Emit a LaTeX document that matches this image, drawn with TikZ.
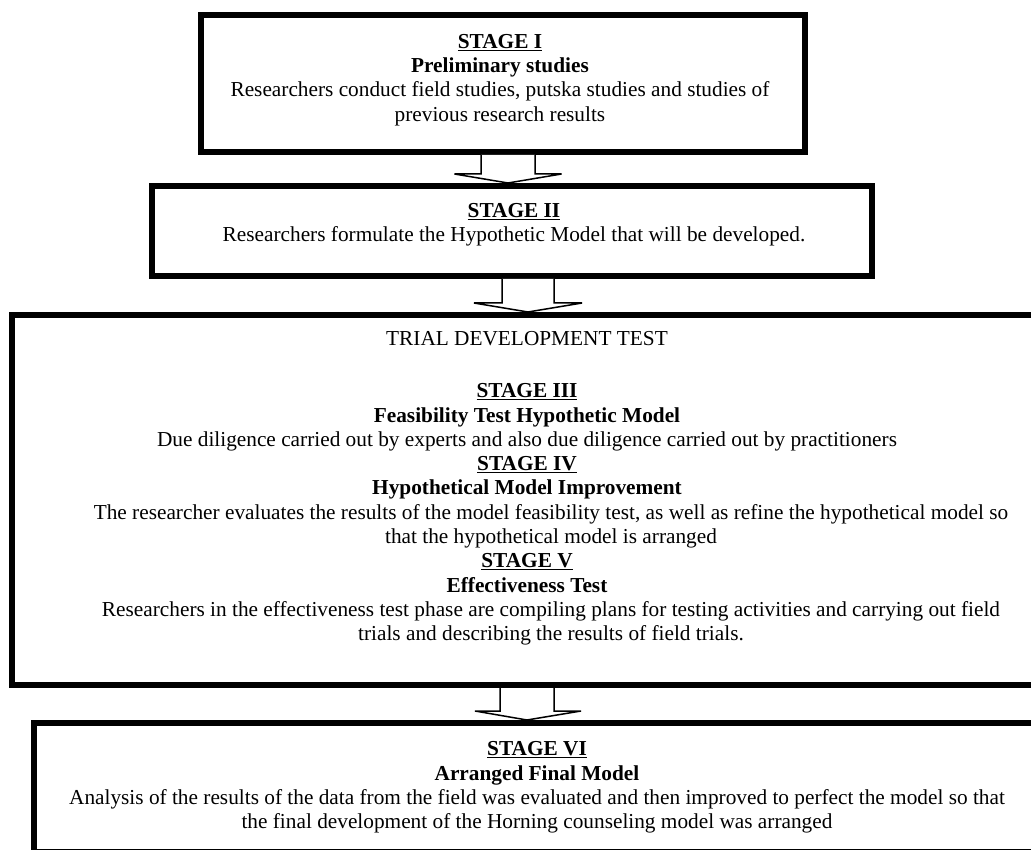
\documentclass[tikz,border=0pt]{standalone}
\usepackage{fontspec}
\setmainfont{Liberation Serif}
\usetikzlibrary{calc}

\begin{document}
\begin{tikzpicture}[x=1pt,y=1pt,
  frame/.style={draw=black, line width=6pt, inner sep=0pt},
  words/.style={align=center, inner sep=0pt, font=\fontsize{21.3}{24.3}\selectfont},
  hollow/.style={draw=black, line width=1.5pt, fill=white, line join=miter}]
\useasboundingbox (0,0) rectangle (1031,-850);

% the four stage boxes
\node[frame, minimum width=604, minimum height=136.5] (f1) at (503,-83.75) {};
\node[frame, minimum width=720, minimum height=90] (f2) at (512,-231) {};
\node[frame, minimum width=1030, minimum height=370] (f3) at (527,-500) {};
\node[frame, minimum width=1006, minimum height=129] (f4) at (537,-787.5) {};

\node[words] (s1) at (500,-80) {\textbf{\underline{STAGE I}}\\
  \textbf{Preliminary studies}\\
  Researchers conduct field studies, putska studies and studies of\\
  previous research results};

\node[words] (s2) at (514,-225) {\textbf{\underline{STAGE II}}\\
  Researchers formulate the Hypothetic Model that will be developed.};

\node[words] (s3) at (527,-488.5) {TRIAL DEVELOPMENT TEST\\[27.7pt]
  \textbf{\underline{STAGE III}}\\
  \textbf{Feasibility Test Hypothetic Model}\\
  Due diligence carried out by experts and also due diligence carried out by practitioners\\
  \textbf{\underline{STAGE IV}}\\
  \textbf{Hypothetical Model Improvement}\\
  \hspace*{48pt}The researcher evaluates the results of the model feasibility test, as well as refine the hypothetical model so\\
  \hspace*{48pt}that the hypothetical model is arranged\\
  \textbf{\underline{STAGE V}}\\
  \textbf{Effectiveness Test}\\
  \hspace*{48pt}Researchers in the effectiveness test phase are compiling plans for testing activities and carrying out field\\
  \hspace*{48pt}trials and describing the results of field trials.};

\node[words] (s4) at (537,-787.5) {\textbf{\underline{STAGE VI}}\\
  \textbf{Arranged Final Model}\\
  Analysis of the results of the data from the field was evaluated and then improved to perfect the model so that\\
  the final development of the Horning counseling model was arranged};

% hollow block arrows between the boxes
\draw[hollow] ($(f1.south)+(-22,0)$) -- ++(0,-19) -- ++(-26.5,0)
  -- ($(f2.north)+(-4,0)$) -- ++(53.5,9) -- ++(-26.5,0) -- ($(f1.south)+(32,0)$);
\draw[hollow] ($(f2.south)+(-10,0)$) -- ++(0,-24) -- ++(-28,0)
  -- ($(f3.north)+(1,0)$) -- ++(54,9) -- ++(-28,0) -- ($(f2.south)+(42,0)$);
\draw[hollow] ($(f3.south)+(-27,0)$) -- ++(0,-23) -- ++(-25,0)
  -- ($(f4.north)+(-10,0)$) -- ++(54,9) -- ++(-27,0) -- ($(f3.south)+(27,0)$);

\end{tikzpicture}
\end{document}
